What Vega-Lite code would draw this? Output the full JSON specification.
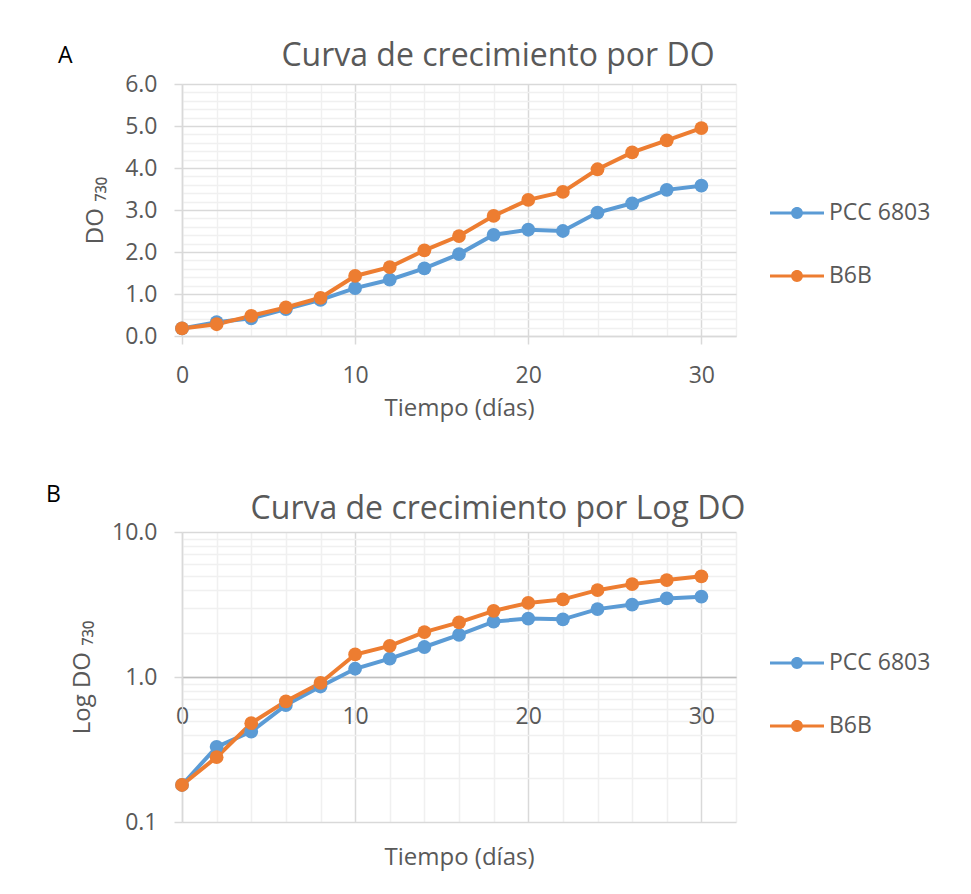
{
  "$schema": "https://vega.github.io/schema/vega-lite/v6.json",
  "background": "white",
  "padding": {"left": 46, "top": 40, "right": 5, "bottom": 5},
  "config": {
    "font": "Open Sans",
    "view": {"stroke": null},
    "axis": {
      "labelFont": "Open Sans", "labelFontSize": 23, "labelColor": "#595959",
      "titleFont": "Open Sans", "titleFontSize": 24, "titleColor": "#595959", "titleFontWeight": "normal",
      "domainColor": "#d9d9d9", "domainWidth": 1.5, "tickSize": 8, "tickWidth": 1.5, "gridWidth": 1.5,
      "labelOverlap": false, "labelFlush": false
    },
    "legend": {
      "orient": "none", "title": null, "padding": 0,
      "symbolType": "M-1,-0.06 L1,-0.06 L1,0.06 L-1,0.06 Z M0.22,0 A0.22,0.22 0 1,1 -0.22,0 A0.22,0.22 0 1,1 0.22,0 Z",
      "symbolSize": 2916, "symbolStrokeWidth": 0, "symbolOpacity": 1,
      "labelFont": "Open Sans", "labelFontSize": 23, "labelColor": "#595959", "labelOffset": 5, "rowPadding": 24
    },
    "title": {"font": "Open Sans", "fontWeight": "normal"}
  },
  "datasets": {
    "od": [
      {"dias": 0, "serie": "PCC 6803", "valor": 0.18},
      {"dias": 2, "serie": "PCC 6803", "valor": 0.33},
      {"dias": 4, "serie": "PCC 6803", "valor": 0.42},
      {"dias": 6, "serie": "PCC 6803", "valor": 0.64},
      {"dias": 8, "serie": "PCC 6803", "valor": 0.86},
      {"dias": 10, "serie": "PCC 6803", "valor": 1.14},
      {"dias": 12, "serie": "PCC 6803", "valor": 1.34},
      {"dias": 14, "serie": "PCC 6803", "valor": 1.61},
      {"dias": 16, "serie": "PCC 6803", "valor": 1.95},
      {"dias": 18, "serie": "PCC 6803", "valor": 2.41},
      {"dias": 20, "serie": "PCC 6803", "valor": 2.53},
      {"dias": 22, "serie": "PCC 6803", "valor": 2.50},
      {"dias": 24, "serie": "PCC 6803", "valor": 2.94},
      {"dias": 26, "serie": "PCC 6803", "valor": 3.16},
      {"dias": 28, "serie": "PCC 6803", "valor": 3.48},
      {"dias": 30, "serie": "PCC 6803", "valor": 3.58},
      {"dias": 0, "serie": "B6B", "valor": 0.18},
      {"dias": 2, "serie": "B6B", "valor": 0.28},
      {"dias": 4, "serie": "B6B", "valor": 0.48},
      {"dias": 6, "serie": "B6B", "valor": 0.68},
      {"dias": 8, "serie": "B6B", "valor": 0.91},
      {"dias": 10, "serie": "B6B", "valor": 1.43},
      {"dias": 12, "serie": "B6B", "valor": 1.64},
      {"dias": 14, "serie": "B6B", "valor": 2.04},
      {"dias": 16, "serie": "B6B", "valor": 2.38},
      {"dias": 18, "serie": "B6B", "valor": 2.86},
      {"dias": 20, "serie": "B6B", "valor": 3.24},
      {"dias": 22, "serie": "B6B", "valor": 3.43},
      {"dias": 24, "serie": "B6B", "valor": 3.97},
      {"dias": 26, "serie": "B6B", "valor": 4.37},
      {"dias": 28, "serie": "B6B", "valor": 4.66},
      {"dias": 30, "serie": "B6B", "valor": 4.95}
    ]
  },
  "spacing": 64,
  "resolve": {"legend": {"color": "independent"}, "scale": {"y": "independent"}},
  "vconcat": [
    {
      "title": {"text": "A", "anchor": "start", "frame": "group", "fontSize": 23, "color": "#000000", "font": "Open Sans", "fontWeight": "normal", "dx": -124, "dy": 32},
      "resolve": {"legend": {"color": "independent"}},
      "vconcat": [
        {
          "width": 554,
          "height": 252,
          "title": {"text": "Curva de crecimiento por DO", "fontSize": 32, "color": "#595959", "anchor": "middle", "dx": 39, "dy": 4},
          "data": {"name": "od"},
          "encoding": {
            "x": {
              "field": "dias", "type": "quantitative",
              "scale": {"domain": [0, 32], "nice": false, "zero": false},
              "axis": {
                "values": [0, 2, 4, 6, 8, 10, 12, 14, 16, 18, 20, 22, 24, 26, 28, 30, 32],
                "labelExpr": "datum.value % 10 === 0 && datum.value <= 30 ? datum.label : ''",
                "gridColor": {"condition": {"test": "datum.value % 10 === 0", "value": "#d9d9d9"}, "value": "#f0f0f0"},
                "tickColor": {"condition": {"test": "datum.value % 10 === 0", "value": "#d9d9d9"}, "value": "transparent"},
                "labelPadding": 20,
                "title": "Tiempo (días)",
                "titlePadding": 9
              }
            },
            "y": {
              "field": "valor", "type": "quantitative",
              "scale": {"domain": [0, 6], "nice": false},
              "axis": {
                "values": [0, 0.2, 0.4, 0.6, 0.8, 1, 1.2, 1.4, 1.6, 1.8, 2, 2.2, 2.4, 2.6, 2.8, 3, 3.2, 3.4, 3.6, 3.8, 4, 4.2, 4.4, 4.6, 4.8, 5, 5.2, 5.4, 5.6, 5.8, 6],
                "labelExpr": "abs(datum.value - round(datum.value)) < 1e-6 ? format(datum.value, '.1f') : ''",
                "gridColor": {"condition": {"test": "abs(datum.value - round(datum.value)) < 1e-6", "value": "#d9d9d9"}, "value": "#f0f0f0"},
                "tickColor": {"condition": {"test": "abs(datum.value - round(datum.value)) < 1e-6", "value": "#d9d9d9"}, "value": "transparent"},
                "labelPadding": 17,
                "title": "DO ₇₃₀",
                "titlePadding": 17
              }
            },
            "color": {"field": "serie", "type": "nominal", "sort": ["PCC 6803", "B6B"],
              "scale": {"domain": ["PCC 6803", "B6B"], "range": ["#5b9bd5", "#ed7d31"]},
              "legend": {"legendX": 588, "legendY": 102,
                "symbolType": "M-1,-0.06 L1,-0.06 L1,0.06 L-1,0.06 Z M0.22,0 A0.22,0.22 0 1,1 -0.22,0 A0.22,0.22 0 1,1 0.22,0 Z",
                "symbolSize": 2916, "symbolStrokeWidth": 0, "symbolOpacity": 1}}
          },
          "layer": [
            {"mark": {"type": "line", "strokeWidth": 4}},
            {"mark": {"type": "point", "filled": true, "size": 190, "opacity": 1}}
          ]
        }
      ]
    },
    {
      "title": {"text": "B", "anchor": "start", "frame": "group", "fontSize": 23, "color": "#000000", "font": "Open Sans", "fontWeight": "normal", "dx": -136, "dy": 18},
      "resolve": {"legend": {"color": "independent"}},
      "vconcat": [
        {
          "width": 554,
          "height": 290,
          "title": {"text": "Curva de crecimiento por Log DO", "fontSize": 32, "color": "#595959", "anchor": "middle", "dx": 39, "dy": 9},
          "data": {"name": "od"},
          "encoding": {
            "x": {
              "field": "dias", "type": "quantitative",
              "scale": {"domain": [0, 32], "nice": false, "zero": false},
              "axis": {
                "values": [0, 2, 4, 6, 8, 10, 12, 14, 16, 18, 20, 22, 24, 26, 28, 30, 32],
                "labelExpr": "datum.value % 10 === 0 && datum.value <= 30 ? datum.label : ''",
                "gridColor": {"condition": {"test": "datum.value % 10 === 0", "value": "#d9d9d9"}, "value": "#f0f0f0"},
                "tickColor": {"condition": {"test": "datum.value % 10 === 0", "value": "#d9d9d9"}, "value": "transparent"},
                "domainColor": "#bfbfbf",
                "offset": -145,
                "labelPadding": 20,
                "title": "Tiempo (días)",
                "titleBaseline": "middle",
                "titleY": 180
              }
            },
            "y": {
              "field": "valor", "type": "quantitative",
              "scale": {"type": "log", "domain": [0.1, 10], "nice": false},
              "axis": {
                "values": [0.1, 0.2, 0.3, 0.4, 0.5, 0.6, 0.7, 0.8, 0.9, 1, 2, 3, 4, 5, 6, 7, 8, 9, 10],
                "labelExpr": "abs(log(datum.value)/LN10 - round(log(datum.value)/LN10)) < 1e-6 ? format(datum.value, '.1f') : ''",
                "gridColor": {"condition": {"test": "abs(log(datum.value)/LN10 - round(log(datum.value)/LN10)) < 1e-6", "value": "#d9d9d9"}, "value": "#f0f0f0"},
                "tickColor": {"condition": {"test": "abs(log(datum.value)/LN10 - round(log(datum.value)/LN10)) < 1e-6", "value": "#d9d9d9"}, "value": "transparent"},
                "labelPadding": 17,
                "title": "Log DO ₇₃₀",
                "titlePadding": 17
              }
            },
            "color": {"field": "serie", "type": "nominal", "sort": ["PCC 6803", "B6B"],
              "scale": {"domain": ["PCC 6803", "B6B"], "range": ["#5b9bd5", "#ed7d31"]},
              "legend": {"legendX": 588, "legendY": 104,
                "symbolType": "M-1,-0.06 L1,-0.06 L1,0.06 L-1,0.06 Z M0.22,0 A0.22,0.22 0 1,1 -0.22,0 A0.22,0.22 0 1,1 0.22,0 Z",
                "symbolSize": 2916, "symbolStrokeWidth": 0, "symbolOpacity": 1}}
          },
          "layer": [
            {"mark": {"type": "line", "strokeWidth": 4}},
            {"mark": {"type": "point", "filled": true, "size": 190, "opacity": 1}}
          ]
        }
      ]
    }
  ]
}
